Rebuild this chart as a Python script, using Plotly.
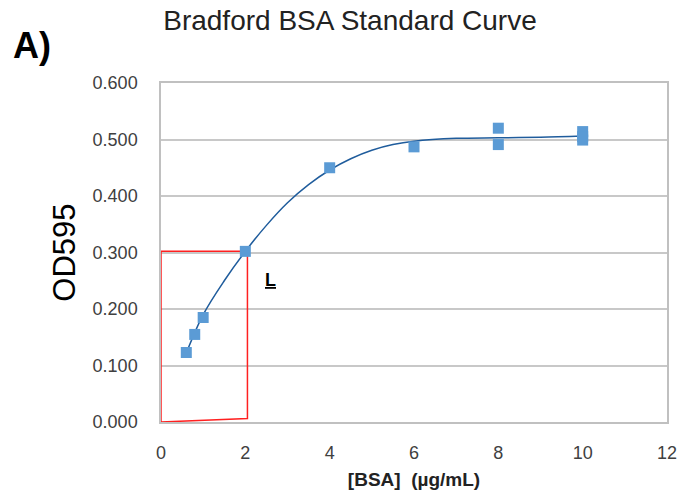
import plotly.graph_objects as go

# Measured standards (BSA ug/mL vs OD595)
bsa_conc = [0.6, 0.8, 1.0, 2, 4, 6, 8, 8, 10, 10, 10]
od595 = [0.123, 0.155, 0.185, 0.302, 0.450, 0.487, 0.520, 0.491, 0.514, 0.505, 0.499]

# Trend curve
curve_x = [0.6, 1.0, 1.5, 2.0, 2.5, 3.0, 3.5, 4.0, 4.5, 5.0, 5.5, 6.0, 7.0, 8.0, 9.0, 10.0]
curve_y = [0.122, 0.190, 0.250, 0.302, 0.348, 0.388, 0.420, 0.446, 0.466, 0.481, 0.491, 0.497, 0.502, 0.503, 0.504, 0.506]

# Linear-range box
box_x = [0, 0, 2.05, 2.05, 0]
box_y = [0, 0.302, 0.302, 0.006, 0]

x_ticks = [0, 2, 4, 6, 8, 10, 12]
y_ticks = [0.0, 0.1, 0.2, 0.3, 0.4, 0.5, 0.6]

fig = go.Figure()
fig.add_trace(go.Scatter(x=box_x, y=box_y, mode="lines",
                         line=dict(color="#ff2020", width=1.5), hoverinfo="skip",
                         showlegend=False))
fig.add_trace(go.Scatter(x=curve_x, y=curve_y, mode="lines", line_shape="spline",
                         line=dict(color="#1f5c9c", width=1.5), showlegend=False))
fig.add_trace(go.Scatter(x=bsa_conc, y=od595, mode="markers",
                         marker=dict(symbol="square", size=11, color="#5b9bd5",
                                     line=dict(width=0)), showlegend=False))

fig.add_annotation(x=2.6, y=0.252, xref="x", yref="y", text="<b><u>L</u></b>",
                   showarrow=False, font=dict(family="Arial, Liberation Sans", size=18, color="black"))
fig.add_annotation(x=-150 / 506, y=1 + (83 - 45) / 339.5, xref="paper", yref="paper",
                   text="<b>A)</b>", showarrow=False, xanchor="left", yanchor="middle",
                   font=dict(family="Arial, Liberation Sans", size=36, color="black"))

fig.update_layout(
    width=681, height=494,
    margin=dict(l=161, r=14, t=83, b=72),
    paper_bgcolor="white", plot_bgcolor="white",
    font=dict(family="Arial, Liberation Sans", color="#404040"),
    title=dict(text="Bradford BSA Standard Curve", x=350 / 681, xanchor="center",
               y=1 - 20 / 494, yanchor="middle",
               font=dict(family="Arial, Liberation Sans", size=28, color="#222222")),
    xaxis=dict(range=[0, 12], tickvals=x_ticks, ticktext=[str(v) for v in x_ticks],
               showgrid=False, zeroline=False, showline=True, linecolor="#c0c0c0", linewidth=1.5,
               mirror=True, ticks="", tickfont=dict(size=18, color="#404040"),
               ticklabelstandoff=14, automargin=False,
               title=dict(text="<b>[BSA]  (µg/mL)</b>", standoff=10,
                          font=dict(size=19, color="#222222"))),
    yaxis=dict(range=[0, 0.6], tickvals=y_ticks, ticktext=[f"{v:.3f}" for v in y_ticks],
               showgrid=True, gridcolor="#c8c8c8", gridwidth=1.5, zeroline=False,
               showline=True, linecolor="#c0c0c0", linewidth=1.5, mirror=True, ticks="",
               tickfont=dict(size=18, color="#404040"), ticklabelstandoff=18, automargin=False,
               title=dict(text="OD595", standoff=8, font=dict(size=31, color="black"))),
)

fig.write_html("out.html")
